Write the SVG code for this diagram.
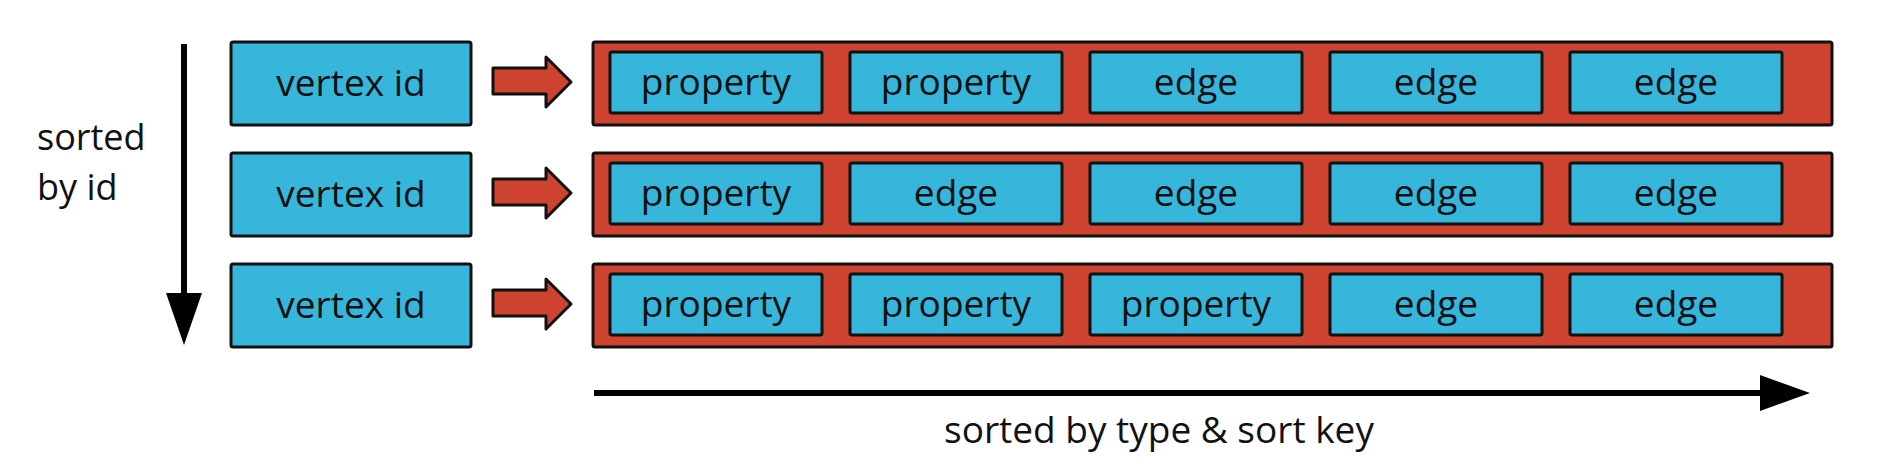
<svg xmlns="http://www.w3.org/2000/svg" width="1889" height="471" viewBox="0 0 1889 471">
<style>
.bg{fill:#ffffff}
.blue{fill:#36b6da;stroke:#111;stroke-width:3}
.red{fill:#cd432f;stroke:#111;stroke-width:3}
.rarrow{fill:#cd432f;stroke:#111;stroke-width:3;stroke-linejoin:round}
.t{font-family:"Open Sans","DejaVu Sans",sans-serif;font-size:37px;fill:#111;text-anchor:middle}
.tl{font-family:"Open Sans","DejaVu Sans",sans-serif;font-size:36px;fill:#111}
.axis{stroke:#000;stroke-width:6;fill:none}
.head{fill:#000}
</style>
<defs>
<path id="rarr" d="M493,68 H546 V57 L571,82 L546,107 V94 H493 Z"/>
</defs>
<rect class="bg" x="0" y="0" width="1889" height="471"/>

<g id="row1">
  <g id="v1"><rect class="blue" x="231" y="42" width="240" height="83" rx="2"/><text class="t" x="351" y="96">vertex id</text></g>
  <g id="c1">
    <rect class="red" x="593" y="42" width="1239" height="83" rx="2"/>
    <rect class="blue" x="610" y="52" width="212" height="61" rx="2"/><text class="t" x="716" y="95">property</text>
    <rect class="blue" x="850" y="52" width="212" height="61" rx="2"/><text class="t" x="956" y="95">property</text>
    <rect class="blue" x="1090" y="52" width="212" height="61" rx="2"/><text class="t" x="1196" y="95">edge</text>
    <rect class="blue" x="1330" y="52" width="212" height="61" rx="2"/><text class="t" x="1436" y="95">edge</text>
    <rect class="blue" x="1570" y="52" width="212" height="61" rx="2"/><text class="t" x="1676" y="95">edge</text>
  </g>
</g>

<g id="row2" transform="translate(0,111)">
  <g id="v2"><rect class="blue" x="231" y="42" width="240" height="83" rx="2"/><text class="t" x="351" y="96">vertex id</text></g>
  <g id="c2">
    <rect class="red" x="593" y="42" width="1239" height="83" rx="2"/>
    <rect class="blue" x="610" y="52" width="212" height="61" rx="2"/><text class="t" x="716" y="95">property</text>
    <rect class="blue" x="850" y="52" width="212" height="61" rx="2"/><text class="t" x="956" y="95">edge</text>
    <rect class="blue" x="1090" y="52" width="212" height="61" rx="2"/><text class="t" x="1196" y="95">edge</text>
    <rect class="blue" x="1330" y="52" width="212" height="61" rx="2"/><text class="t" x="1436" y="95">edge</text>
    <rect class="blue" x="1570" y="52" width="212" height="61" rx="2"/><text class="t" x="1676" y="95">edge</text>
  </g>
</g>

<g id="row3" transform="translate(0,222)">
  <g id="v3"><rect class="blue" x="231" y="42" width="240" height="83" rx="2"/><text class="t" x="351" y="96">vertex id</text></g>
  <g id="c3">
    <rect class="red" x="593" y="42" width="1239" height="83" rx="2"/>
    <rect class="blue" x="610" y="52" width="212" height="61" rx="2"/><text class="t" x="716" y="95">property</text>
    <rect class="blue" x="850" y="52" width="212" height="61" rx="2"/><text class="t" x="956" y="95">property</text>
    <rect class="blue" x="1090" y="52" width="212" height="61" rx="2"/><text class="t" x="1196" y="95">property</text>
    <rect class="blue" x="1330" y="52" width="212" height="61" rx="2"/><text class="t" x="1436" y="95">edge</text>
    <rect class="blue" x="1570" y="52" width="212" height="61" rx="2"/><text class="t" x="1676" y="95">edge</text>
  </g>
</g>

<g id="connectors">
  <use href="#rarr" class="rarrow"/>
  <use href="#rarr" class="rarrow" transform="translate(0,111)"/>
  <use href="#rarr" class="rarrow" transform="translate(0,222)"/>
  <line class="axis" x1="184" y1="44" x2="184" y2="296"/>
  <polygon class="head" points="166,293 202,293 184,345"/>
  <line class="axis" x1="594" y1="393" x2="1763" y2="393"/>
  <polygon class="head" points="1760,375 1760,411 1810,393"/>
</g>

<g id="labels">
  <text class="tl" x="37" y="150">sorted</text>
  <text class="tl" x="37" y="200">by id</text>
  <text class="t" x="1159" y="443">sorted by type &amp; sort key</text>
</g>
</svg>
